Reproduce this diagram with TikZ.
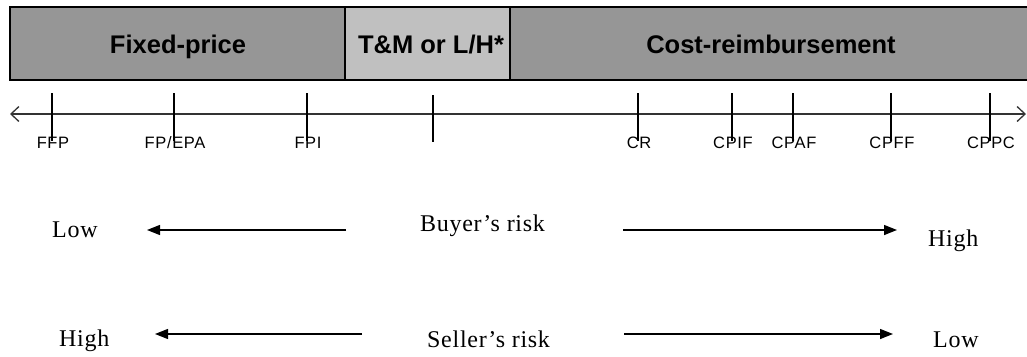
\documentclass[tikz,border=0pt]{standalone}
\usepackage{fontspec}
\setmainfont{Liberation Serif}
\newfontfamily\barfont{Liberation Sans}
\newfontfamily\tickfont[LetterSpace=4]{Liberation Sans}
\newfontfamily\riskfont[LetterSpace=3]{Liberation Serif}
\usetikzlibrary{arrows.meta}
\definecolor{bardark}{RGB}{150,150,150}
\definecolor{barlight}{RGB}{192,192,192}
\tikzset{
  segment/.style={draw=black, line width=2.5pt, minimum height=73pt, inner sep=0pt, anchor=center},
  barlabel/.style={inner sep=0pt, anchor=base, font=\barfont\bfseries\fontsize{25.5}{30}\selectfont},
  ticklabel/.style={inner sep=0pt, anchor=base, font=\tickfont\fontsize{16.5}{19}\selectfont},
  ticktick/.style={draw=black, line width=1.2pt},
  axisline/.style={draw=black!80, line width=1.3pt, {Straight Barb[length=8pt,width=15pt]}-{Straight Barb[length=8pt,width=15pt]}},
  risklabel/.style={inner sep=0pt, anchor=base west, font=\riskfont\fontsize{24}{28}\selectfont},
  riskarrow/.style={draw=black, line width=1.4pt, -{Triangle[length=13pt,width=10pt]}}
}
\begin{document}
\begin{tikzpicture}[x=1pt,y=-1pt]
\useasboundingbox (0,0) rectangle (1027,356);
% bar
\node[segment, fill=bardark, minimum width=335pt] (fp) at (177.5,43.5) {};
\node[segment, fill=barlight, minimum width=165pt] (tm) at (427.5,43.5) {};
\node[segment, fill=bardark, minimum width=522pt] (cr) at (771,43.5) {};
\node[barlabel] (fpl) at (178,53) {Fixed-price};
\node[barlabel] (tml) at (431,53) {T\&M or L/H*};
\node[barlabel] (crl) at (771,53) {Cost-reimbursement};
% axis
\coordinate (axL) at (10,114);
\coordinate (axR) at (1026,114);
\draw[axisline] (axL) -- (axR);
% ticks
\foreach \n/\x/\t in {1/52/{FFP}, 2/174/{FP/EPA}, 3/307/{FPI}, 5/638/{CR}, 6/732/{CPIF}, 7/793/{CPAF}, 8/891/{CPFF}, 9/990/{CPPC}}{
  \coordinate (tt\n) at (\x,93);
  \coordinate (tb\n) at (\x,141);
  \draw[ticktick] (tt\n) -- (tb\n);
  \node[ticklabel] (tl\n) at (\x+1,148) {\t};
}
\coordinate (tt4) at (433,95);
\coordinate (tb4) at (433,142);
\draw[ticktick] (tt4) -- (tb4);
% buyer's risk row
\node[risklabel] (blow) at (52,237) {Low};
\node[risklabel] (brisk) at (420,231) {Buyer’s risk};
\node[risklabel] (bhigh) at (928,246) {High};
\coordinate (ba1s) at (346,230);
\coordinate (ba1e) at (147,230);
\coordinate (ba2s) at (623,230);
\coordinate (ba2e) at (897,230);
\draw[riskarrow] (ba1s) -- (ba1e);
\draw[riskarrow] (ba2s) -- (ba2e);
% seller's risk row
\node[risklabel] (shigh) at (59,346) {High};
\node[risklabel] (srisk) at (427,347) {Seller’s risk};
\node[risklabel] (slow) at (933,347) {Low};
\coordinate (sa1s) at (362,334);
\coordinate (sa1e) at (155,334);
\coordinate (sa2s) at (624,334);
\coordinate (sa2e) at (893,334);
\draw[riskarrow] (sa1s) -- (sa1e);
\draw[riskarrow] (sa2s) -- (sa2e);
\end{tikzpicture}
\end{document}
